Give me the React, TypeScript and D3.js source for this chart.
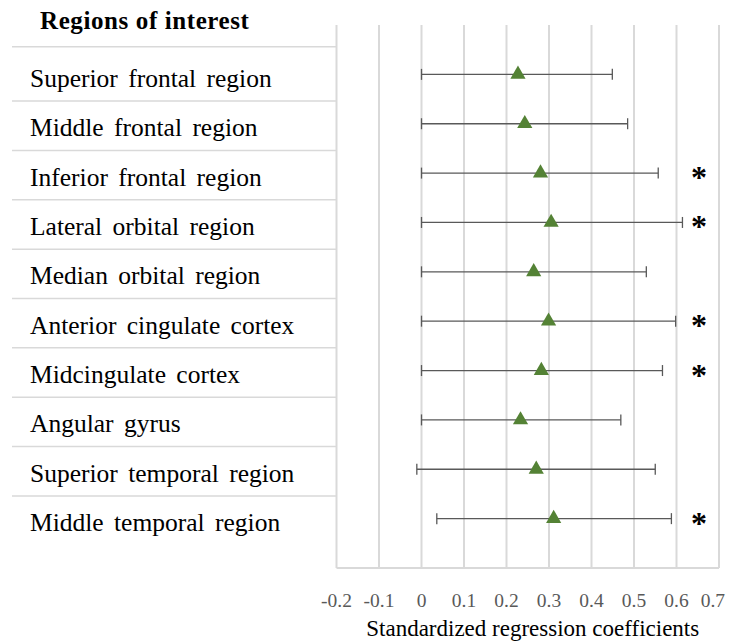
import React from 'react';
import * as d3 from 'd3';

// regions listed top to bottom
const regions = [
  'Superior frontal region',
  'Middle frontal region',
  'Inferior frontal region',
  'Lateral orbital region',
  'Median orbital region',
  'Anterior cingulate cortex',
  'Midcingulate cortex',
  'Angular gyrus',
  'Superior temporal region',
  'Middle temporal region',
];
const coef = [0.227, 0.243, 0.28, 0.305, 0.264, 0.299, 0.282, 0.233, 0.27, 0.311];
const ciLow = [0, 0, 0, 0, 0, 0, 0, 0, -0.011, 0.036];
const ciHigh = [0.449, 0.485, 0.557, 0.614, 0.529, 0.598, 0.567, 0.469, 0.55, 0.588];
const significant = [false, false, true, true, false, true, true, false, false, true];
const xTicks = [-0.2, -0.1, 0, 0.1, 0.2, 0.3, 0.4, 0.5, 0.6, 0.7];

const W = 734, H = 642;
const serif = '"Liberation Serif", "Times New Roman", serif';
const grid = '#d9d9d9';
const green = '#548235';
const barCol = '#595959';

const App = () => {
  const x = d3.scaleLinear().domain([-0.2, 0.7]).range([336.5, 719]);
  // scatter-style y: rows sit at 1..10, axis runs 0..11
  const y = d3.scaleLinear().domain([0, 11]).range([25, 568]);
  const tri = d3.symbol().type(d3.symbolTriangle).size(100)();
  const cap = 5.5;

  return (
    <svg width={W} height={H} style={{position: 'absolute', left: 0, top: 0, background: '#fff'}}>
      {/* table part on the left */}
      <text x={40} y={29} fontFamily={serif} fontWeight="bold" fontSize={25} letterSpacing={0.6} fill="#000">Regions of interest</text>
      <line x1={12} x2={x(-0.2)} y1={y(0.5) - 3} y2={y(0.5) - 3} stroke={grid} strokeWidth={1.5} />
      {regions.slice(1).map((_, i) => (
        <line key={'sep' + i} x1={12} x2={x(-0.2)} y1={y(i + 1.5) + 2} y2={y(i + 1.5) + 2} stroke={grid} strokeWidth={1.5} />
      ))}
      {regions.map((r, i) => (
        <text key={'lab' + i} x={30} y={y(i + 1) + 12.5} fontFamily={serif} fontSize={25.5} fill="#000"
          style={{wordSpacing: '4px'}}>{r}</text>
      ))}

      {/* vertical gridlines */}
      {xTicks.map(t => (
        <line key={'g' + t} x1={x(t)} x2={x(t)} y1={y(0)} y2={y(11)} stroke={grid} strokeWidth={2} />
      ))}
      <line x1={x(-0.2)} x2={x(0.7)} y1={y(11)} y2={y(11)} stroke={grid} strokeWidth={2} />

      {/* error bars */}
      {coef.map((_, i) => (
        <g key={'eb' + i} stroke={barCol} strokeWidth={1.3}>
          <line x1={x(ciLow[i])} x2={x(ciHigh[i])} y1={y(i + 1)} y2={y(i + 1)} />
          <line x1={x(ciLow[i])} x2={x(ciLow[i])} y1={y(i + 1) - cap} y2={y(i + 1) + cap} />
          <line x1={x(ciHigh[i])} x2={x(ciHigh[i])} y1={y(i + 1) - cap} y2={y(i + 1) + cap} />
        </g>
      ))}

      {/* point estimates */}
      {coef.map((c, i) => (
        <path key={'pt' + i} d={tri ?? ''} transform={`translate(${x(c)},${y(i + 1)})`} fill={green} />
      ))}

      {/* significance marks */}
      {significant.map((s, i) => s ? (
        <text key={'st' + i} x={699} y={y(i + 1) + 15} textAnchor="middle" fontFamily={serif} fontWeight="bold" fontSize={32} fill="#000">*</text>
      ) : null)}

      {/* x axis labels */}
      {xTicks.map((t, i) => (
        <text key={'tl' + t} x={i === xTicks.length - 1 ? x(t) + 6 : x(t)} y={607}
          textAnchor={i === xTicks.length - 1 ? 'end' : 'middle'}
          fontFamily={serif} fontSize={19.5} fill="#595959">{t === 0 ? '0' : String(t)}</text>
      ))}
      <text x={(x(-0.2) + x(0.7)) / 2 + 5} y={636} textAnchor="middle" fontFamily={serif} fontSize={23} fill="#000">
        Standardized regression coefficients
      </text>
    </svg>
  );
};

export default App;
